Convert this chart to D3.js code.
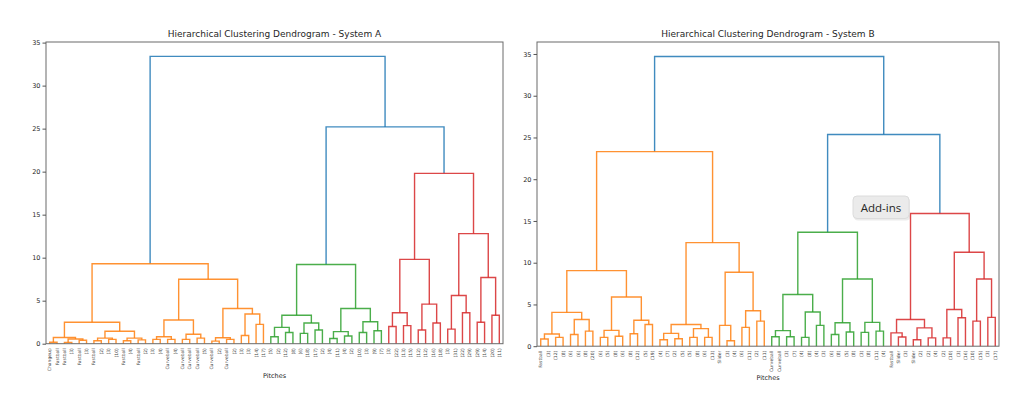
<!doctype html>
<html>
<head>
<meta charset="utf-8">
<title>Dendrograms</title>
<style>
  body { margin: 0; background: #fff; }
  svg text { font-family: "DejaVu Sans", sans-serif; fill: #262626; }
  .link { fill: none; stroke-width: 1.4px; stroke-opacity: 0.85; }
  .frame { fill: none; stroke: #6a6a6a; stroke-width: 1px; }
  .tick text { font-size: 6.5px; }
  .tick line { stroke: #555; }
  .leaf { font-size: 4.5px; fill: #444; }
  .title { font-size: 9px; }
  .xlabel { font-size: 6.5px; }
</style>
<script src="https://cdn.jsdelivr.net/npm/d3@7"></script>
</head>
<body>
<script>
// colours, scipy / matplotlib defaults
const aboveColor = "#1f77b4";
const clusterColors = ["#ff7f0e", "#2ca02c", "#d62728"];
const yTicks = [0, 5, 10, 15, 20, 25, 30, 35];

// ---- System A ----
const labelsA = ["Changeup","Fastball","Fastball","(3)","Fastball","(3)","Fastball","(2)","(3)","(10)",
  "Fastball","(4)","Fastball","(2)","(3)","(4)","Curveball","(4)","Curveball","Curveball",
  "Curveball","(5)","Curveball","(2)","Curveball","(2)","(3)","(3)","(14)","(17)",
  "(5)","(2)","(12)","(8)","(6)","(18)","(17)","(2)","(4)","(11)","(4)","(2)","(10)","(3)","(9)","(7)",
  "(3)","(22)","(13)","(15)","(12)","(12)","(16)","(18)","(3)","(31)","(22)","(29)","(29)","(14)","(20)","(11)"];

// [left, right, height]; numbers are leaf positions
const orangeA = [
  [[[0, 1, 0.16], [[2, 3, 0.15], [4, 5, 0.4], 0.55], 0.72],
   [[[6, 7, 0.35], [8, 9, 0.5], 0.65], [[10, 11, 0.35], [12, 13, 0.45], 0.65], 1.45], 2.5],
  [[[[14, 15, 0.5], [16, 17, 0.5], 0.8], [[18, 19, 0.5], [20, 21, 0.65], 1.1], 2.75],
   [[[22, 23, 0.3], [24, 25, 0.5], 0.7], [[26, 27, 0.95], [28, 29, 2.25], 3.45], 4.1], 7.5],
  9.3];
const greenA = [
  [[[30, 31, 0.8], [32, 33, 1.3], 1.9], [[34, 35, 1.2], [36, 37, 1.6], 2.4], 3.3],
  [[[38, 39, 0.6], [40, 41, 0.9], 1.4], [[42, 43, 1.3], [44, 45, 1.5], 2.55], 4.1],
  9.2];
const redA = [
  [[[46, 47, 2.0], [48, 49, 2.1], 3.6], [[50, 51, 1.6], [52, 53, 2.4], 4.6], 9.8],
  [[[54, 55, 1.7], [56, 57, 3.6], 5.6], [[58, 59, 2.5], [60, 61, 3.3], 7.7], 12.8],
  19.8];
const treeA = [orangeA, [greenA, redA, 25.2], 33.4];

// ---- System B ----
const labelsB = ["Fastball","(3)","(12)","(8)","(6)","(6)","(8)","(20)","(6)","(5)",
  "(8)","(6)","(8)","(12)","(5)","(19)","(4)","(7)","(2)","(5)",
  "(5)","(8)","(6)","(13)","Slider","(3)","(4)","(6)","(11)","(2)","(11)",
  "Curveball","Curveball","(3)","(7)","(4)","(8)","(4)","(3)","(6)","(8)","(5)","(8)","(3)","(8)","(11)","(4)",
  "Fastball","Slider","(3)","Slider","(2)","(2)","(4)","(2)","(10)","(3)","(16)","(10)","(15)","(3)","(17)"];

const orangeB = [
  [[[[0, 1, 0.86], [2, 3, 1.06], 1.46], [[4, 5, 1.4], [6, 7, 1.8], 3.2], 4.05],
   [[[8, 9, 1.06], [10, 11, 1.2], 1.9], [[12, 13, 1.5], [14, 15, 2.6], 3.1], 5.9], 9.05],
  [[[[16, 17, 0.78], [18, 19, 0.9], 1.54], [[20, 21, 1.06], [22, 23, 1.06], 2.1], 2.6],
   [[24, [25, 26, 0.66], 2.5], [[27, 28, 2.25], [29, 30, 3.0], 4.25], 8.85], 12.4],
  23.3];
const greenB = [
  [[[31, 32, 1.14], [33, 34, 1.14], 1.86], [[35, 36, 1.06], [37, 38, 2.5], 4.1], 6.2],
  [[[39, 40, 1.4], [41, 42, 1.7], 2.8], [[43, 44, 1.65], [45, 46, 1.8], 2.85], 8.05],
  13.65];
const redB = [
  [[47, [48, 49, 1.1], 1.6], [[50, 51, 0.78], [52, 53, 1.0], 2.2], 3.2],
  [[[54, 55, 1.0], [56, 57, 3.4], 4.4], [[58, 59, 3.0], [60, 61, 3.45], 8.05], 11.25],
  15.9];
const treeB = [orangeB, [greenB, redB, 25.35], 34.7];

const svg = d3.select("body").append("svg")
    .attr("width", 1024)
    .attr("height", 396);

function toNode(t) {
  if (typeof t === "number") return {leaf: t, h: 0};
  return {h: t[2], kids: [toNode(t[0]), toNode(t[1])]};
}

function drawDendrogram(tree, labels, box, title) {
  var root = d3.hierarchy(toNode(tree), d => d.kids),
      maxH = root.data.h,
      n = labels.length;

  var x = d3.scaleLinear().domain([0, n * 10]).range([box.left, box.right]),
      y = d3.scaleLinear().domain([0, maxH * 1.05]).range([box.bottom, box.top]);

  // leaf positions like scipy: 5, 15, 25 ...; parents sit at the mean of their children
  root.eachAfter(function(d) {
    d.px = d.children ? d3.mean(d.children, c => c.px) : x(d.data.leaf * 10 + 5);
  });

  // colour clusters below 0.7 * max height, left to right
  var threshold = 0.7 * maxH, k = -1;
  root.eachBefore(function(d) {
    if (!d.children) return;
    if (d.data.h >= threshold) d.color = aboveColor;
    else if (!d.parent || d.parent.data.h >= threshold) d.color = clusterColors[++k % clusterColors.length];
    else d.color = d.parent.color;
  });

  var g = svg.append("g");

  g.selectAll(".link")
    .data(root.descendants().filter(d => d.children))
    .enter().append("path")
      .attr("class", "link")
      .attr("stroke", d => d.color)
      .attr("d", function(d) {
        var a = d.children[0], b = d.children[1];
        return "M" + a.px + "," + y(a.data.h)
          + "V" + y(d.data.h)
          + "H" + b.px
          + "V" + y(b.data.h);
      });

  g.append("rect")
    .attr("class", "frame")
    .attr("x", box.left).attr("y", box.top)
    .attr("width", box.right - box.left)
    .attr("height", box.bottom - box.top);

  var yAxis = g.append("g")
    .attr("transform", "translate(" + box.left + ",0)")
    .call(d3.axisLeft(y).tickValues(yTicks).tickSize(3.5).tickPadding(2));
  yAxis.select(".domain").remove();
  yAxis.selectAll("text").attr("fill", "#262626").attr("font-family", "DejaVu Sans");

  // leaf labels, rotated
  g.selectAll(".leaf")
    .data(root.leaves())
    .enter().append("text")
      .attr("class", "leaf")
      .attr("transform", d => "translate(" + d.px + "," + (box.bottom + 4.5) + ") rotate(-90)")
      .attr("text-anchor", "end")
      .attr("dy", "0.35em")
      .text(d => labels[d.data.leaf]);

  g.append("text")
    .attr("class", "title")
    .attr("x", (box.left + box.right) / 2)
    .attr("y", box.top - 5)
    .attr("text-anchor", "middle")
    .text(title);

  g.append("text")
    .attr("class", "xlabel")
    .attr("x", (box.left + box.right) / 2)
    .attr("y", box.xlabelY)
    .attr("text-anchor", "middle")
    .text("Pitches");
}

drawDendrogram(treeA, labelsA, {left: 46, right: 503, top: 42, bottom: 343.7, xlabelY: 378},
  "Hierarchical Clustering Dendrogram - System A");
drawDendrogram(treeB, labelsB, {left: 537, right: 999, top: 42, bottom: 346.2, xlabelY: 380},
  "Hierarchical Clustering Dendrogram - System B");

// y label of the left panel, partly cut off at the edge
svg.append("clipPath").attr("id", "ycut")
  .append("rect").attr("x", 27.5).attr("y", 150).attr("width", 20).attr("height", 90);
svg.append("text")
  .attr("clip-path", "url(#ycut)")
  .attr("transform", "translate(31.5,193) rotate(-90)")
  .attr("text-anchor", "middle")
  .style("font-size", "6.3px")
  .text("Distance");

// the grey hover tooltip over the right panel
var tip = svg.append("g").attr("transform", "translate(853,196)");
tip.append("rect")
  .attr("x", 1).attr("y", 1.5)
  .attr("width", 56).attr("height", 23).attr("rx", 4)
  .attr("fill", "#000").attr("opacity", 0.08);
tip.append("rect")
  .attr("width", 56).attr("height", 22.5).attr("rx", 4)
  .attr("fill", "#ebebeb").attr("stroke", "#dcdcdc");
tip.append("text")
  .attr("x", 28).attr("y", 15.8)
  .attr("text-anchor", "middle")
  .style("font-family", "'Open Sans', sans-serif")
  .style("font-size", "11.5px")
  .attr("fill", "#3a3a3a")
  .text("Add-ins");
</script>
</body>
</html>
